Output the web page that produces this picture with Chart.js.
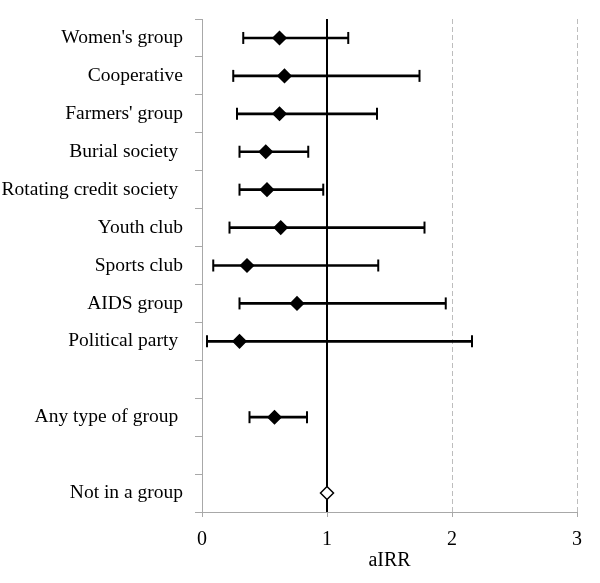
<!DOCTYPE html>
<html>
<head>
<meta charset="utf-8">
<title>aIRR by group membership</title>
<script src="https://cdn.jsdelivr.net/npm/chart.js@4"></script>
<style>
  html, body { margin: 0; padding: 0; background: #fff; }
  #wrap { width: 600px; height: 583px; }
</style>
</head>
<body>
<div id="wrap"><canvas id="forest"></canvas></div>
<script>
// ---------- Data ----------
// blank rows ('') are spacer rows in the plot
const categories = [
  "Women's group", 'Cooperative', "Farmers' group", 'Burial society ',
  'Rotating credit society ', 'Youth club', 'Sports club', 'AIDS group',
  'Political party ', '', 'Any type of group ', '', 'Not in a group',
];
const estimates = [0.62, 0.66, 0.62, 0.51, 0.52, 0.63, 0.36, 0.76, 0.30, null, 0.58, null, 1.00];
const lower     = [0.33, 0.25, 0.28, 0.30, 0.30, 0.22, 0.09, 0.30, 0.04, null, 0.38, null, null];
const upper     = [1.17, 1.74, 1.40, 0.85, 0.97, 1.78, 1.41, 1.95, 2.16, null, 0.84, null, null];
const referenceValue = 1;      // no-effect line
const xTicks = [0, 1, 2, 3];
const axisTitle = 'aIRR';

// ---------- Styles ----------
const FONT = "'Liberation Serif', 'Times New Roman', serif";
const AXIS_GRAY = '#a8a8a8';
const DASH_GRAY = '#bdbdbd';

const ciRanges = lower.map((lo, i) => (lo == null ? null : [lo, upper[i]]));
const diamondFill = estimates.map(v => (v === referenceValue ? '#ffffff' : '#000000'));

// reference line + dashed verticals
const forestDecor = {
  id: 'forestDecor',
  beforeDatasetsDraw(chart) {
    const { ctx, chartArea, scales: { x } } = chart;
    ctx.save();
    ctx.lineWidth = 1;
    ctx.strokeStyle = DASH_GRAY;
    ctx.setLineDash([5, 3]);
    xTicks.filter(v => v > referenceValue).forEach(v => {
      const px = Math.round(x.getPixelForValue(v)) + 0.5;
      ctx.beginPath();
      ctx.moveTo(px, chartArea.top);
      ctx.lineTo(px, chartArea.bottom);
      ctx.stroke();
    });
    ctx.setLineDash([]);
    ctx.lineWidth = 2;
    ctx.strokeStyle = '#000';
    const rx = x.getPixelForValue(referenceValue);
    ctx.beginPath();
    ctx.moveTo(rx, chartArea.top);
    ctx.lineTo(rx, chartArea.bottom);
    ctx.stroke();
    ctx.restore();
  },
};

const capStyle = {
  type: 'line',
  indexAxis: 'y',
  showLine: false,
  pointStyle: 'line',
  rotation: 90,
  pointRadius: 6,
  pointHoverRadius: 6,
  borderColor: '#000',
  borderWidth: 2,
};

new Chart(document.getElementById('forest'), {
  type: 'bar',
  data: {
    labels: categories,
    datasets: [
      {
        type: 'line',
        indexAxis: 'y',
        data: estimates,
        showLine: false,
        pointStyle: 'rectRot',
        pointRadius: 6.5,
        pointHoverRadius: 6.5,
        pointBorderWidth: 1.5,
        pointBorderColor: '#000',
        pointBackgroundColor: diamondFill,
        order: 0,
      },
      { ...capStyle, data: lower, order: 1 },
      { ...capStyle, data: upper, order: 1 },
      {
        data: ciRanges,
        backgroundColor: '#000',
        borderWidth: 0,
        barThickness: 2,
        order: 2,
      },
    ],
  },
  options: {
    indexAxis: 'y',
    responsive: true,
    maintainAspectRatio: false,
    animation: false,
    layout: { padding: { top: 19, right: 23, left: 0, bottom: 0 } },
    plugins: { legend: { display: false }, tooltip: { enabled: false } },
    scales: {
      x: {
        type: 'linear',
        min: 0,
        max: 3,
        afterBuildTicks(scale) { scale.ticks = xTicks.map(v => ({ value: v })); },
        afterFit(scale) { scale.height = 71; scale.paddingLeft = 0; scale.paddingRight = 0; },
        border: { color: AXIS_GRAY, width: 1 },
        grid: { drawOnChartArea: false, tickLength: 5, tickColor: AXIS_GRAY },
        ticks: { color: '#000', padding: 11, font: { family: FONT, size: 20 } },
        title: {
          display: true,
          text: axisTitle,
          color: '#000',
          padding: { top: 0, bottom: 10 },
          font: { family: FONT, size: 20 },
        },
      },
      y: {
        type: 'category',
        offset: true,
        afterFit(scale) { scale.width = 202; scale.paddingTop = 0; scale.paddingBottom = 0; },
        border: { color: AXIS_GRAY, width: 1 },
        grid: { offset: true, drawOnChartArea: false, tickLength: 7, tickColor: AXIS_GRAY },
        ticks: {
          autoSkip: false,
          color: '#000',
          padding: 12,
          labelOffset: 0,
          font: { family: FONT, size: 19.5 },
        },
      },
    },
  },
  plugins: [forestDecor],
});
</script>
</body>
</html>
